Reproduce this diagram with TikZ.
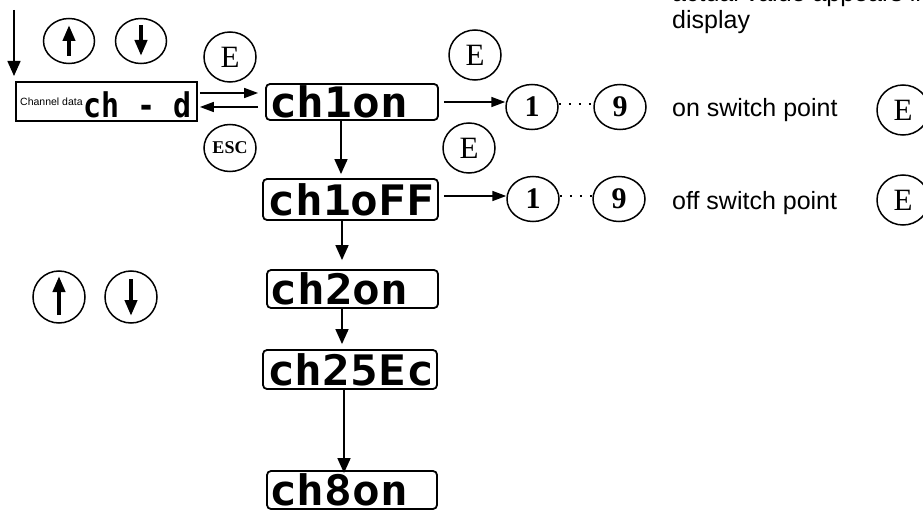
\documentclass[tikz,border=0pt]{standalone}
\usepackage{fontspec}
\setmainfont{Liberation Serif}
\newfontfamily\arial{Liberation Sans}
\newfontfamily\segA[FakeStretch=1.1]{DejaVu Sans Mono}
\newfontfamily\segB[FakeStretch=0.88]{DejaVu Sans Mono}
\usetikzlibrary{arrows.meta,shapes.geometric}
\begin{document}
\begin{tikzpicture}[x=1pt,y=-1pt,
 disp/.style={draw, rounded corners=4pt, line width=1.8pt, inner xsep=2pt, inner ysep=0pt, text width=166pt, align=left, font=\segA\bfseries\fontsize{42}{42}\selectfont},
 key/.style={draw, ellipse, line width=1.5pt, inner sep=0pt, minimum width=52pt, minimum height=50pt, font=\fontsize{31}{31}\selectfont},
 num/.style={draw, ellipse, line width=1.5pt, inner sep=0pt, minimum width=52pt, minimum height=45pt, font=\bfseries\fontsize{30}{30}\selectfont},
 arrkey/.style={draw, ellipse, line width=1.5pt, inner sep=0pt, minimum width=51pt, minimum height=45pt},
 arr/.style={line width=1.6pt, -{Triangle[length=15pt,width=13pt]}},
 harr/.style={line width=1.6pt, -{Triangle[length=14pt,width=10pt]}},
 fat/.style={line width=4.5pt, -{Triangle[length=16pt,width=12pt]}},
 lbl/.style={font=\arial\fontsize{25}{28}\selectfont, inner sep=0pt, anchor=base west, align=left}]
\useasboundingbox (0,0) rectangle (923,513);

% displays
\node[disp, minimum width=172pt, minimum height=36pt] (ch1) at (352,102) {ch1on};
\node[disp, minimum width=175pt, minimum height=41pt] (ch1off) at (350.5,199.5) {ch1oFF};
\node[disp, minimum width=171pt, minimum height=38pt] (ch2) at (352.5,289) {ch2on};
\node[disp, minimum width=174pt, minimum height=39pt] (ch25) at (350,369.5) {ch25Ec};
\node[disp, minimum width=170pt, minimum height=38pt] (ch8) at (352,490) {ch8on};

% channel data box
\node[draw, line width=1.8pt, minimum width=181pt, minimum height=39pt, inner sep=0pt] (cd) at (106.5,101.5) {};
\node[font=\arial\fontsize{10.5}{12}\selectfont, anchor=west, inner sep=0pt] (cdl) at (20,102) {Channel data};
\node[font=\segB\bfseries\fontsize{34}{34}\selectfont, anchor=east, inner sep=0pt] (cdd) at (192,104.5) {ch - d};

% arrow keys
\node[arrkey] (up1) at (69,41) {};
\node[arrkey] (dn1) at (141,41) {};
\draw[fat] ([yshift=-15pt]up1.center) -- ([yshift=16pt]up1.center);
\draw[fat] ([yshift=16pt]dn1.center) -- ([yshift=-15pt]dn1.center);
\node[arrkey, minimum width=52pt, minimum height=52pt] (up2) at (59,297) {};
\node[arrkey, minimum width=52pt, minimum height=52pt] (dn2) at (131,297) {};
\draw[fat] ([yshift=-18pt]up2.center) -- ([yshift=21pt]up2.center);
\draw[fat] ([yshift=18pt]dn2.center) -- ([yshift=-19pt]dn2.center);

% E keys
\node[key] (e1) at (230,57) {E};
\node[key] (e2) at (475,55) {E};
\node[key] (e3) at (469,148) {E};
\node[key] (e4) at (903,110) {E};
\node[key] (e5) at (903,200) {E};
\node[key, minimum height=47pt, font=\bfseries\fontsize{18}{18}\selectfont] (esc) at (230,148) {ESC};

% number keys
\node[num] (o1) at (532,107) {1};
\node[num] (n1) at (620,107) {9};
\node[num] (o2) at (533,199) {1};
\node[num] (n2) at (619,199) {9};

% labels
\node[font=\arial\fontsize{25}{27}\selectfont, align=left, anchor=south west, inner sep=0pt] (t0) at (672,34) {actual value appears in\\display};
\node[lbl] (t1) at (672,117) {on switch point};
\node[lbl] (t2) at (672,210) {off switch point};

% connectors
\coordinate (s0) at (14,10);
\coordinate (s1) at (14,76);
\draw[arr] (s0) -- (s1);

\coordinate (a1) at ([yshift=8.5pt]cd.east);
\coordinate (a2) at (a1 -| ch1.west);
\draw[harr, shorten >=7pt, shorten <=2pt] (a1) -- (a2);
\coordinate (b1) at ([yshift=-5.5pt]cd.east);
\coordinate (b2) at (b1 -| ch1.west);
\draw[harr, shorten >=2pt, shorten <=7pt] (b2) -- (b1);

\coordinate (v1) at ([xshift=-11pt]ch1.south);
\draw[arr, shorten >=4pt] (v1) -- (v1 |- ch1off.north);
\coordinate (v2) at ([xshift=-8.5pt]ch1off.south);
\draw[arr, shorten >=9pt] (v2) -- (v2 |- ch2.north);
\coordinate (v3) at ([xshift=-10.5pt]ch2.south);
\draw[arr, shorten >=5pt] (v3) -- (v3 |- ch25.north);
\coordinate (v4) at ([xshift=-6pt]ch25.south);
\draw[arr, shorten >=-3pt] (v4) -- (v4 |- ch8.north);

\coordinate (h1) at ([xshift=5pt]ch1.east);
\draw[harr] (h1) -- (h1 -| o1.west);
\coordinate (h2) at ([xshift=5pt,yshift=3.5pt]ch1off.east);
\draw[harr] (h2) -- (h2 -| o2.west);

\draw[line width=1.3pt, dash pattern=on 2pt off 8pt] ([yshift=3pt]o1.east) -- ([yshift=3pt]n1.west);
\draw[line width=1.3pt, dash pattern=on 2pt off 8pt] ([yshift=3pt]o2.east) -- ([yshift=3pt]n2.west);
\end{tikzpicture}
\end{document}
